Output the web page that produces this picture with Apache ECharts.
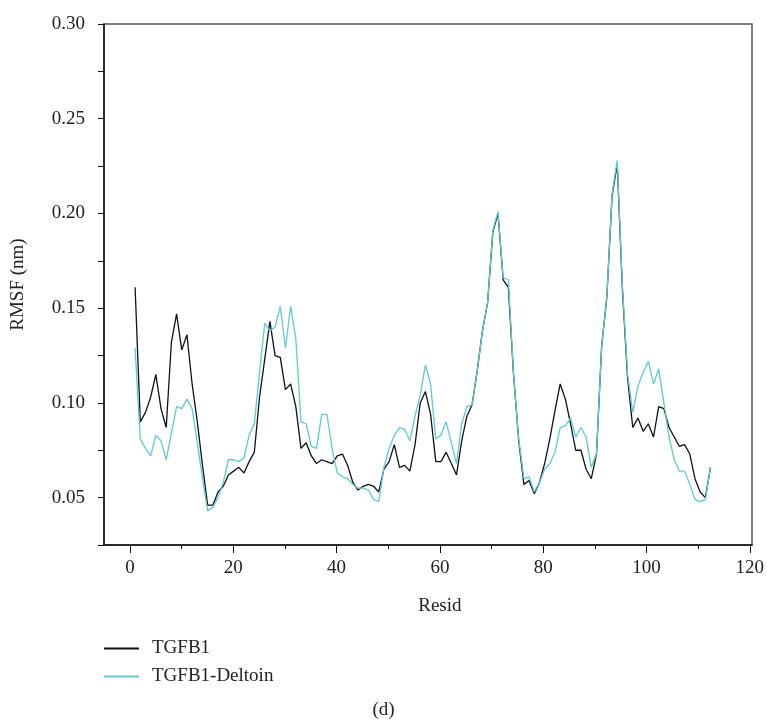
<!DOCTYPE html>
<html>
<head>
<meta charset="utf-8">
<script src="https://cdn.jsdelivr.net/npm/echarts@6/dist/echarts.min.js"></script>
<style>
  html, body { margin: 0; padding: 0; background: #fff; }
  #chart { width: 767px; height: 723px; }
</style>
</head>
<body>
<div id="chart"></div>
<script>
// residue numbers 1..112
const resid = Array.from({ length: 112 }, (_, i) => i + 1);

// RMSF (nm)
const tgfb1 = [
  0.161, 0.090, 0.095, 0.103, 0.115, 0.097, 0.087, 0.132, 0.147, 0.128,
  0.136, 0.110, 0.090, 0.067, 0.046, 0.046, 0.053, 0.056, 0.062, 0.064,
  0.066, 0.063, 0.069, 0.074, 0.103, 0.123, 0.143, 0.125, 0.124, 0.107,
  0.110, 0.098, 0.076, 0.079, 0.072, 0.068, 0.070, 0.069, 0.068, 0.072,
  0.073, 0.067, 0.058, 0.054, 0.056, 0.057, 0.056, 0.053, 0.065, 0.069,
  0.078, 0.066, 0.067, 0.064, 0.078, 0.100, 0.106, 0.094, 0.069, 0.069,
  0.074, 0.068, 0.062, 0.080, 0.093, 0.099, 0.117, 0.138, 0.153, 0.190,
  0.200, 0.165, 0.161, 0.115, 0.080, 0.057, 0.059, 0.052, 0.058, 0.068,
  0.081, 0.096, 0.110, 0.102, 0.089, 0.075, 0.075, 0.065, 0.060, 0.073,
  0.130, 0.156, 0.209, 0.226, 0.160, 0.113, 0.087, 0.092, 0.085, 0.089,
  0.082, 0.098, 0.097, 0.087, 0.082, 0.077, 0.078, 0.073, 0.060, 0.053,
  0.050, 0.066
];

const deltoin = [
  0.129, 0.081, 0.076, 0.072, 0.083, 0.080, 0.070, 0.084, 0.098, 0.097,
  0.102, 0.097, 0.079, 0.060, 0.043, 0.045, 0.050, 0.058, 0.070, 0.070,
  0.069, 0.071, 0.083, 0.089, 0.116, 0.142, 0.138, 0.140, 0.151, 0.129,
  0.151, 0.134, 0.090, 0.089, 0.077, 0.076, 0.094, 0.094, 0.076, 0.063,
  0.061, 0.060, 0.057, 0.055, 0.055, 0.054, 0.049, 0.048, 0.066, 0.076,
  0.083, 0.087, 0.086, 0.080, 0.093, 0.104, 0.120, 0.110, 0.081, 0.083,
  0.090, 0.079, 0.068, 0.089, 0.098, 0.099, 0.117, 0.138, 0.153, 0.191,
  0.201, 0.166, 0.165, 0.115, 0.081, 0.060, 0.061, 0.053, 0.058, 0.065,
  0.068, 0.074, 0.087, 0.088, 0.092, 0.082, 0.087, 0.082, 0.066, 0.073,
  0.130, 0.156, 0.210, 0.228, 0.162, 0.115, 0.095, 0.109, 0.116, 0.122,
  0.110, 0.118, 0.100, 0.082, 0.070, 0.064, 0.064, 0.057, 0.049, 0.048,
  0.049, 0.066
];

const seriesNames = ['TGFB1', 'TGFB1-Deltoin'];
const seriesColors = ['#111111', '#5ecad6'];
const xTicks = [0, 20, 40, 60, 80, 100, 120];

const font = '"Liberation Serif", "DejaVu Serif", serif';
const txt = '#222';

const chart = echarts.init(document.getElementById('chart'));

const option = {
  animation: false,
  textStyle: { fontFamily: font },
  title: {
    text: '(d)',
    left: 'center',
    top: 701,
    padding: 0,
    textStyle: { fontFamily: font, fontSize: 19, fontWeight: 'normal', color: txt }
  },
  legend: {
    orient: 'vertical',
    left: 104,
    top: 639,
    padding: 0,
    itemWidth: 35,
    itemHeight: 2,
    itemGap: 9,
    icon: 'rect',
    textStyle: { fontFamily: font, fontSize: 19, color: txt, lineHeight: 18, padding: [0, 0, 0, 8] },
    data: seriesNames
  },
  grid: [
    { left: 104, right: 15, top: 24, bottom: 178, show: true, borderColor: '#555', borderWidth: 1.5 },
    { left: 130, right: 15, top: 24, bottom: 178 }
  ],
  xAxis: [
    {
      gridIndex: 0, type: 'value', min: -5, max: 120,
      axisLine: { show: true, onZero: false, lineStyle: { color: '#111', width: 1.5 } },
      axisTick: { show: false }, axisLabel: { show: false }, splitLine: { show: false }
    },
    {
      gridIndex: 1, type: 'value', min: xTicks[0], max: xTicks[xTicks.length - 1], interval: 20,
      name: 'Resid', nameLocation: 'middle', nameGap: 52,
      nameTextStyle: { fontFamily: font, fontSize: 19, color: txt },
      axisLine: { show: false },
      axisTick: { show: true, inside: false, length: 8, lineStyle: { color: '#111', width: 1 } },
      minorTick: { show: true, splitNumber: 2, length: 4, lineStyle: { color: '#111', width: 1 } },
      axisLabel: { fontFamily: font, fontSize: 19, color: txt, margin: 14 },
      splitLine: { show: false }
    }
  ],
  yAxis: [
    {
      gridIndex: 0, type: 'value', min: 0.025, max: 0.30, interval: 0.025,
      name: 'RMSF (nm)', nameLocation: 'middle', nameGap: 76, nameRotate: 90,
      nameTextStyle: { fontFamily: font, fontSize: 19, color: txt },
      axisLine: { show: true, onZero: false, lineStyle: { color: '#111', width: 1.5 } },
      axisTick: { show: true, length: 6, lineStyle: { color: '#111', width: 1 } },
      axisLabel: {
        fontFamily: font, fontSize: 19, color: txt, margin: 19,
        formatter: v => (Math.round(v * 1000) % 50 === 0 ? v.toFixed(2) : '')
      },
      splitLine: { show: false }
    },
    { gridIndex: 1, type: 'value', min: 0, max: 1, show: false }
  ],
  series: [
    {
      name: seriesNames[0], type: 'line', xAxisIndex: 0, yAxisIndex: 0,
      data: resid.map((r, i) => [r, tgfb1[i]]),
      showSymbol: false, symbol: 'none',
      lineStyle: { color: seriesColors[0], width: 1.3 },
      itemStyle: { color: seriesColors[0] }
    },
    {
      name: seriesNames[1], type: 'line', xAxisIndex: 0, yAxisIndex: 0,
      data: resid.map((r, i) => [r, deltoin[i]]),
      showSymbol: false, symbol: 'none',
      lineStyle: { color: seriesColors[1], width: 1.3 },
      itemStyle: { color: seriesColors[1] }
    }
  ]
};

chart.setOption(option);
</script>
</body>
</html>
